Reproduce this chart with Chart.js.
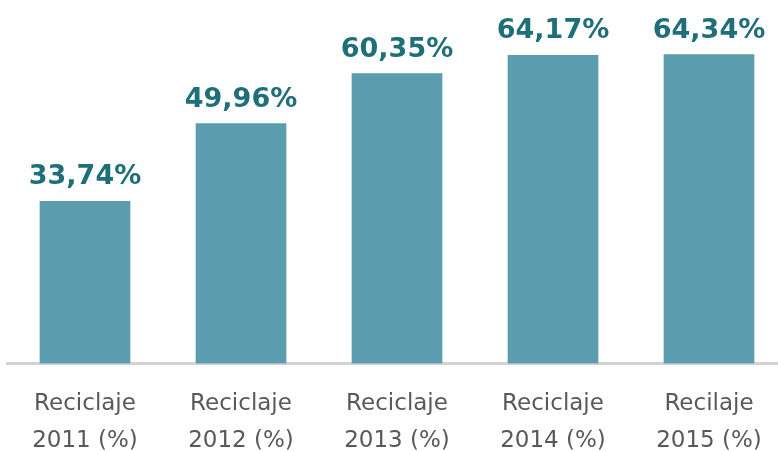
<!DOCTYPE html>
<html>
<head>
<meta charset="utf-8">
<script src="https://cdn.jsdelivr.net/npm/chart.js@4"></script>
<style>
  html, body { margin: 0; padding: 0; background: #fff; overflow: hidden; }
  #wrap { width: 787px; height: 451px; }
</style>
</head>
<body>
<div id="wrap"><canvas id="chart"></canvas></div>
<script>
const categories = [
  ["Reciclaje", "2011 (%)"],
  ["Reciclaje", "2012 (%)"],
  ["Reciclaje", "2013 (%)"],
  ["Reciclaje", "2014 (%)"],
  ["Recilaje", "2015 (%)"]
];
const values = [33.74, 49.96, 60.35, 64.17, 64.34];
const valueLabels = ["33,74%", "49,96%", "60,35%", "64,17%", "64,34%"];

// etiquetas encima de las barras
const topLabels = {
  id: "topLabels",
  afterDatasetsDraw(chart) {
    const ctx = chart.ctx;
    const meta = chart.getDatasetMeta(0);
    ctx.save();
    ctx.font = "bold 27px 'DejaVu Sans'";
    ctx.fillStyle = "#1e6f79";
    ctx.textAlign = "center";
    ctx.textBaseline = "alphabetic";
    meta.data.forEach((bar, i) => {
      ctx.fillText(valueLabels[i], bar.x, bar.y - 17);
    });
    ctx.restore();
  }
};

new Chart(document.getElementById("chart"), {
  type: "bar",
  data: {
    labels: categories,
    datasets: [{
      data: values,
      backgroundColor: "#5b9cae",
      barThickness: 90
    }]
  },
  options: {
    responsive: true,
    maintainAspectRatio: false,
    animation: false,
    layout: { padding: { left: 7, right: 0, top: 0, bottom: -22 } },
    plugins: { legend: { display: false }, tooltip: { enabled: false } },
    scales: {
      x: {
        grid: { display: false },
        border: { display: true, color: "#d3d3d3", width: 3 },
        ticks: {
          color: "#595959",
          font: { family: "'DejaVu Sans'", size: 23, lineHeight: 1.6 },
          padding: 14,
          maxRotation: 0
        }
      },
      y: {
        display: false,
        min: 0,
        max: 75.7
      }
    }
  },
  plugins: [topLabels]
});
</script>
</body>
</html>
